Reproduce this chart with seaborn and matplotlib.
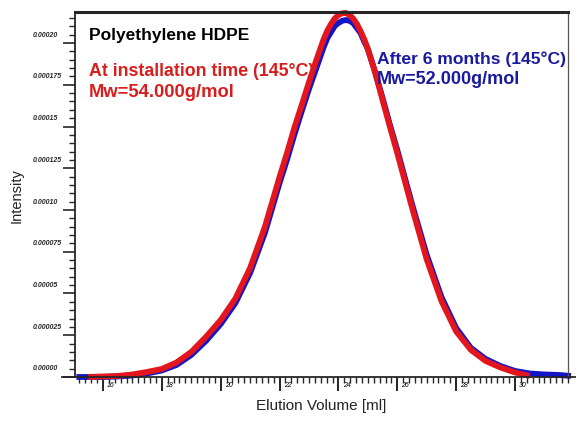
import pandas as pd
import matplotlib
matplotlib.use("Agg")
import matplotlib.pyplot as plt
import matplotlib.transforms as mtransforms
from matplotlib.ticker import MultipleLocator
import seaborn as sns

# elution volume grid (ml)
volume = [15.1, 15.5, 16.0, 16.5, 17.0, 17.5, 18.0, 18.5, 19.0, 19.5, 20.0,
          20.5, 21.0, 21.5, 22.0, 22.25, 22.5, 22.75, 23.0, 23.25, 23.5, 23.625,
          23.75, 23.875, 24.0, 24.125, 24.25, 24.375, 24.5, 24.625, 24.75, 24.875,
          25.0, 25.25, 25.5, 25.75, 26.0, 26.5, 27.0, 27.5, 28.0, 28.5, 29.0,
          29.5, 30.0, 30.5, 31.0, 31.5, 31.9]

# intensity in units of 1e-5
install_int = [0.0, 0.0, 0.03, 0.06, 0.15, 0.30, 0.48, 0.87, 1.50, 2.40, 3.41,
               4.70, 6.53, 8.98, 11.98, 13.40, 14.91, 16.27, 17.66, 18.98, 20.24, 20.75,
               21.14, 21.47, 21.68, 21.78, 21.80, 21.68, 21.47, 21.15, 20.72, 20.23,
               19.64, 18.22, 16.59, 14.98, 13.41, 10.15, 7.04, 4.55, 2.73, 1.62, 0.96,
               0.57, 0.27, 0.06, 0.0, 0.0, 0.0]
aged_int = [0.0, 0.0, 0.0, 0.03, 0.09, 0.21, 0.39, 0.72, 1.32, 2.16, 3.17,
            4.43, 6.23, 8.62, 11.62, 13.00, 14.49, 15.90, 17.25, 18.50, 19.76, 20.30,
            20.66, 21.02, 21.20, 21.33, 21.38, 21.33, 21.20, 20.90, 20.60, 20.10,
            19.64, 18.25, 16.71, 15.10, 13.59, 10.36, 7.31, 4.79, 2.93, 1.74, 1.08,
            0.66, 0.36, 0.21, 0.15, 0.12, 0.06]

x_ticks = [16, 18, 20, 22, 24, 26, 28, 30]
y_ticks = [0.0, 0.000025, 0.00005, 0.000075, 0.0001, 0.000125, 0.00015, 0.000175, 0.0002]
y_tick_labels = ["0.00000", "0.000025", "0.00005", "0.000075", "0.00010",
                 "0.000125", "0.00015", "0.000175", "0.00020"]

RED = "#e3161e"
BLUE = "#1414c8"

df = pd.concat([
    pd.DataFrame({"Volume": volume, "Intensity": [v * 1e-5 for v in aged_int], "Sample": "aged"}),
    pd.DataFrame({"Volume": volume, "Intensity": [v * 1e-5 for v in install_int], "Sample": "install"}),
])
# red trace starts a bit later and stops once it is back at the baseline
df = df[~((df["Sample"] == "install") & ((df["Volume"] < 15.5) | (df["Volume"] > 30.6)))]

sns.set_style("ticks")
plt.rcParams['font.family'] = ['Liberation Sans', 'DejaVu Sans']

fig = plt.figure(figsize=(5.76, 4.27), dpi=100)
ax = fig.add_axes([0.1302, 0.1148, 0.8559, 0.8548])

sns.lineplot(data=df, x="Volume", y="Intensity", hue="Sample",
             hue_order=["aged", "install"], palette={"aged": BLUE, "install": RED},
             estimator=None, sort=False, linewidth=4.2, legend=False, ax=ax)
for ln in ax.get_lines():
    ln.set_clip_on(False)
    ln.set_solid_capstyle("butt")
    ln.set_solid_joinstyle("round")

ax.set_xlim(15.05, 31.80)
ax.set_ylim(0, 0.0002186)

ax.set_xticks(x_ticks)
ax.set_xticklabels([str(t) for t in x_ticks])
ax.xaxis.set_minor_locator(MultipleLocator(0.2))
ax.set_yticks(y_ticks)
ax.set_yticklabels(y_tick_labels)
ax.yaxis.set_minor_locator(MultipleLocator(0.000005))

ax.tick_params(axis="x", which="major", length=10, width=1.2, direction="out",
               labelsize=5, pad=-7, colors="black")
ax.tick_params(axis="x", which="minor", length=4, width=1.0, direction="out")
ax.tick_params(axis="y", which="major", length=9, width=1.2, direction="out",
               labelsize=5, pad=21.5)
ax.tick_params(axis="y", which="minor", length=4, width=1.0, direction="out")

for lab in ax.get_xticklabels():
    lab.set_horizontalalignment("left")
    lab.set_fontstyle("italic")
    lab.set_transform(lab.get_transform() + mtransforms.ScaledTranslation(3 / 72, 0, fig.dpi_scale_trans))
for lab in ax.get_yticklabels():
    lab.set_horizontalalignment("left")
    lab.set_fontstyle("italic")
    lab.set_fontweight("bold")
    lab.set_transform(lab.get_transform() + mtransforms.ScaledTranslation(0, 7.2 / 72, fig.dpi_scale_trans))

ax.spines["top"].set_linewidth(2.2)
ax.spines["left"].set_linewidth(1.3)
ax.spines["right"].set_linewidth(0.9)
ax.spines["right"].set_color("#555555")
ax.spines["bottom"].set_linewidth(1.3)
ax.spines["bottom"].set_bounds(14.61, 32.04)

ax.set_xlabel("Elution Volume [ml]", fontsize=11, labelpad=5, color="#222222")
ax.set_ylabel("Intensity", fontsize=10.5, labelpad=6.5, color="#222222")

ax.text(0.028, 0.926, "Polyethylene HDPE", transform=ax.transAxes, fontsize=12.5,
        fontweight="bold", color="black", va="baseline")
ax.text(0.028, 0.826, "At installation time (145°C)", transform=ax.transAxes,
        fontsize=12.8, fontweight="bold", color="#d91c1c", va="baseline")
ax.text(0.028, 0.771, "Mw=54.000g/mol", transform=ax.transAxes,
        fontsize=13.2, fontweight="bold", color="#d91c1c", va="baseline")
ax.text(0.613, 0.861, "After 6 months (145°C)", transform=ax.transAxes,
        fontsize=12.6, fontweight="bold", color="#1a1aa0", va="baseline", clip_on=False)
ax.text(0.613, 0.805, "Mw=52.000g/mol", transform=ax.transAxes,
        fontsize=13.0, fontweight="bold", color="#1a1aa0", va="baseline", clip_on=False)

plt.savefig("out.png", dpi=100)
plt.close()
